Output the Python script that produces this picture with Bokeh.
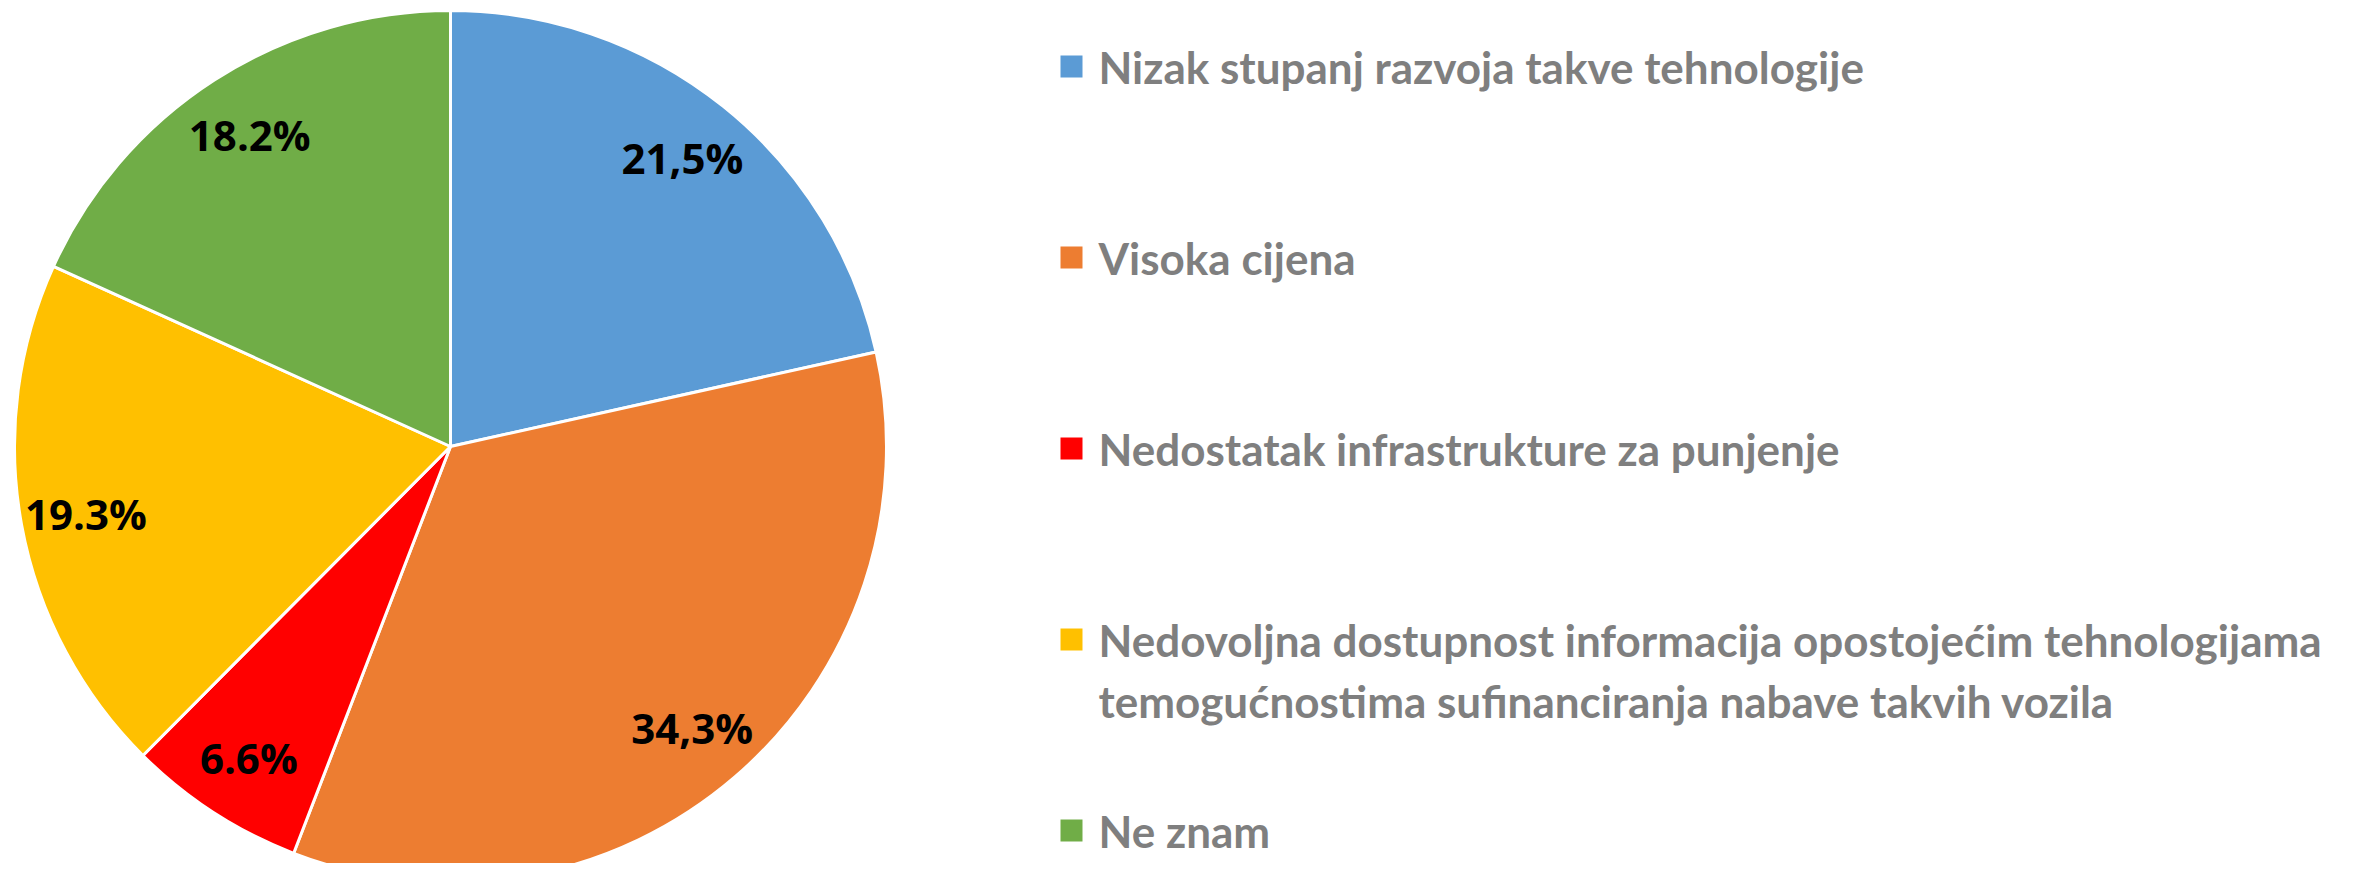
import math
from bokeh.plotting import figure
from bokeh.models import Range1d, ColumnDataSource
from bokeh.core.properties import value
from bokeh.embed import file_html
from bokeh.resources import INLINE

categories = [
    "Nizak stupanj razvoja takve tehnologije",
    "Visoka cijena",
    "Nedostatak infrastrukture za punjenje",
    "Nedovoljna dostupnost informacija opostojećim tehnologijama\ntemogućnostima sufinanciranja nabave takvih vozila",
    "Ne znam",
]
shares = [21.5, 34.3, 6.6, 19.3, 18.2]
labels = ["21,5%", "34,3%", "6.6%", "19.3%", "18.2%"]
colors = ["#5B9BD5", "#ED7D31", "#FF0000", "#FFC000", "#70AD47"]

W, H = 2360, 863
p = figure(width=W, height=H, output_backend="svg", toolbar_location=None,
           x_range=Range1d(0, W), y_range=Range1d(0, H), min_border=0)
p.axis.visible = False
p.grid.visible = False
p.outline_line_color = None
p.background_fill_color = "white"
p.border_fill_color = "white"

def sx(x):
    return x

def sy(y):
    return H - y

cx, cy, R = sx(450), sy(446), 436
total = sum(shares)
starts, ends, lx, ly = [], [], [], []
cum = 0.0
for s in shares:
    a0 = math.pi / 2 - 2 * math.pi * cum / total
    cum += s
    a1 = math.pi / 2 - 2 * math.pi * cum / total
    starts.append(a0)
    ends.append(a1)
    mid = (a0 + a1) / 2
    lx.append(cx + 0.85 * R * math.cos(mid))
    ly.append(cy + 0.85 * R * math.sin(mid))

src = ColumnDataSource(dict(start=starts, end=ends, color=colors, lx=lx, ly=ly, label=labels))
p.wedge(x=cx, y=cy, radius=R, start_angle="start", end_angle="end", direction="clock",
        fill_color="color", line_color="white", line_width=3, source=src)
p.text(x="lx", y="ly", text="label", source=src, text_font=value("Open Sans"),
       text_font_style="bold", text_font_size="42px", text_color="black",
       text_align="center", text_baseline="middle")

# legend
sq_x, txt_x, y0, gap, line_gap = sx(1071), sx(1098), 66, 191, 61
tx, ty, tt = [], [], []
qx, qy = [], []
for i, cat in enumerate(categories):
    base = y0 + gap * i
    qx.append(sq_x)
    qy.append(sy(base))
    for j, line in enumerate(cat.split("\n")):
        tx.append(txt_x)
        ty.append(sy(base + j * line_gap))
        tt.append(line)
p.rect(x=qx, y=qy, width=22, height=22, fill_color=colors, line_color=None)
p.text(x=tx, y=ty, text=tt, text_font=value("Lato"), text_font_style="bold",
       text_font_size="44px", text_color="#7F7F7F", text_align="left", text_baseline="middle")

open("out.html", "w").write(file_html(p, INLINE))
